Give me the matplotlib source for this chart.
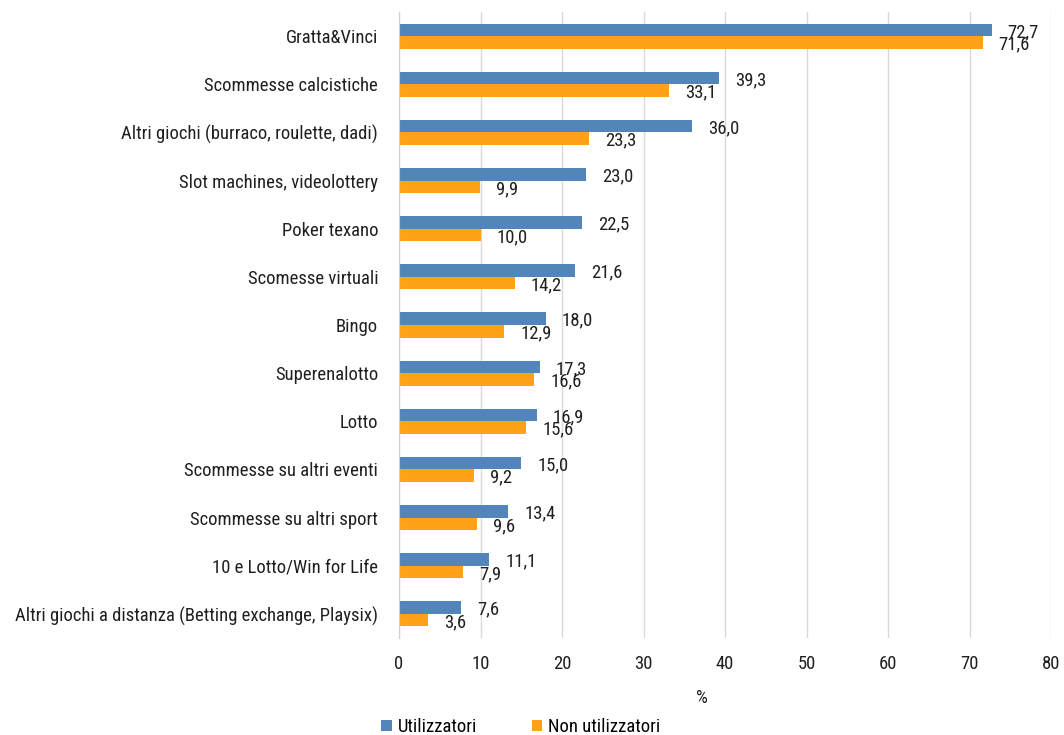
import matplotlib.pyplot as plt
import numpy as np

categories = [
    'Gratta&Vinci',
    'Scommesse calcistiche',
    'Altri giochi (burraco, roulette, dadi)',
    'Slot machines, videolottery',
    'Poker texano',
    'Scomesse virtuali',
    'Bingo',
    'Superenalotto',
    'Lotto',
    'Scommesse su altri eventi',
    'Scommesse su altri sport',
    '10 e Lotto/Win for Life',
    'Altri giochi a distanza (Betting exchange, Playsix)',
]
utilizzatori = [72.7, 39.3, 36.0, 23.0, 22.5, 21.6, 18.0, 17.3, 16.9, 15.0, 13.4, 11.1, 7.6]
non_utilizzatori = [71.6, 33.1, 23.3, 9.9, 10.0, 14.2, 12.9, 16.6, 15.6, 9.2, 9.6, 7.9, 3.6]

blue = '#5285B9'
orange = '#FFA216'
textc = '#1F1F1F'

plt.rcParams['font.family'] = ['Roboto Condensed', 'DejaVu Sans']
plt.rcParams['font.weight'] = 'normal'
fs = 13.4
plt.rcParams['font.size'] = fs

fig = plt.figure(figsize=(10.64, 7.35), dpi=100)
ax = fig.add_axes([399 / 1064, 1 - 638 / 735, (1051 - 399) / 1064, (638 - 12) / 735])

y = np.arange(len(categories))
h = 0.26
b1 = ax.barh(y - h / 2, utilizzatori, h, color=blue, label='Utilizzatori')
b2 = ax.barh(y + h / 2, non_utilizzatori, h, color=orange, label='Non utilizzatori')

fmt = lambda v: f'{v:.1f}'.replace('.', ',')
for bars, vals in ((b1, utilizzatori), (b2, non_utilizzatori)):
    for bar, v in zip(bars, vals):
        ax.annotate(fmt(v), (bar.get_width(), bar.get_y() + bar.get_height() / 2),
                    xytext=(11.5, -1.5), textcoords='offset points',
                    ha='left', va='center', fontsize=fs, color=textc,
                    annotation_clip=False)

ax.set_xlim(0, 80)
ax.set_ylim(len(categories) - 0.5, -0.5)
ax.set_xticks(np.arange(0, 81, 10))
ax.set_yticks(y, categories)
ax.xaxis.grid(True, color='#D9D9D9', linewidth=1)
ax.set_axisbelow(True)
for s in ['top', 'right', 'bottom']:
    ax.spines[s].set_visible(False)
ax.spines['left'].set_color('#D0D0D0')
ax.tick_params(axis='both', length=0, labelsize=fs, colors=textc)
ax.tick_params(axis='y', pad=15)
ax.tick_params(axis='x', pad=12)
ax.set_xlabel('%', fontsize=fs, color=textc)
ax.xaxis.set_label_coords(0.465, -0.082)

fig.legend(loc='lower left', bbox_to_anchor=(374 / 1064, -0.012), ncol=2, frameon=False,
           fontsize=fs, handlelength=0.55, handleheight=0.55, columnspacing=2.9,
           handletextpad=0.35, borderaxespad=0.0)

fig.savefig('out.png', dpi=100)
